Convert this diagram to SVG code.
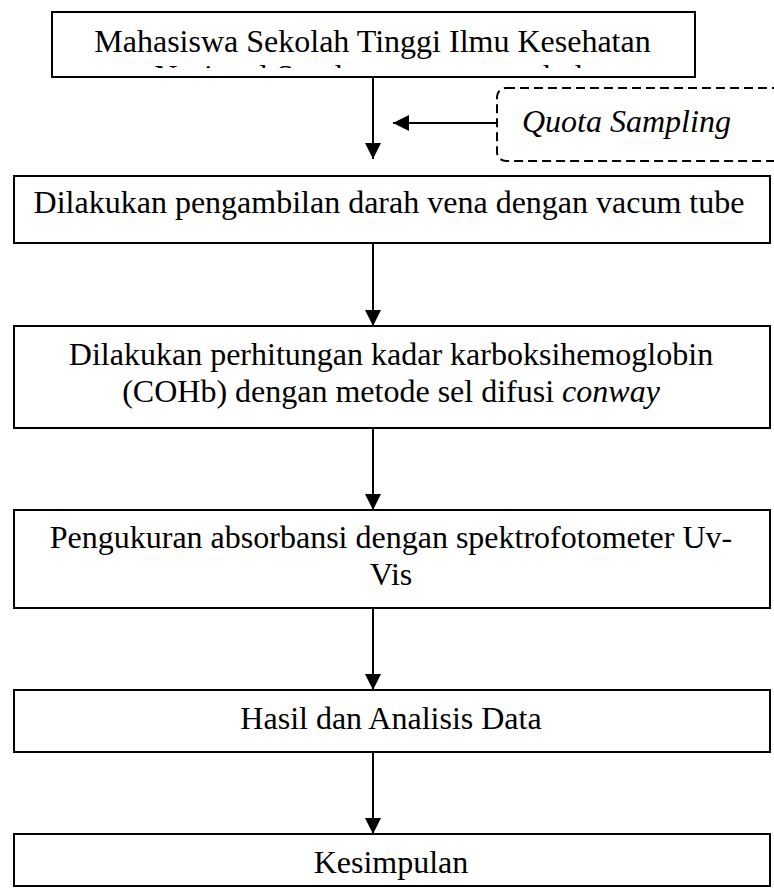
<svg xmlns="http://www.w3.org/2000/svg" width="774" height="888" viewBox="0 0 774 888">
  <style>
    .box { fill: #ffffff; stroke: #000000; stroke-width: 2; }
    .dash { fill: #ffffff; stroke: #000000; stroke-width: 2; stroke-dasharray: 9 5; }
    .t { font-family: "Liberation Serif", "Times New Roman", serif; font-size: 32px; fill: #000000; }
    .c { text-anchor: middle; }
    .i { font-style: italic; }
    .conn { stroke: #000000; stroke-width: 2; fill: none; marker-end: url(#arrow); }
  </style>
  <defs>
    <marker id="arrow" markerUnits="userSpaceOnUse" markerWidth="16" markerHeight="16" viewBox="0 0 15 15" refX="15" refY="7.5" orient="auto">
      <path d="M0,0 L15,7.5 L0,15 Z" fill="#000000"/>
    </marker>
    <clipPath id="clip1">
      <rect x="52" y="0" width="643" height="68"/>
    </clipPath>
  </defs>
  <rect width="774" height="888" fill="#ffffff"/>

  <g id="connectors">
    <line class="conn" x1="373" y1="77" x2="373" y2="159"/>
    <line class="conn" x1="497" y1="123" x2="393" y2="123"/>
    <line class="conn" x1="373" y1="243" x2="373" y2="326"/>
    <line class="conn" x1="373" y1="428" x2="373" y2="510"/>
    <line class="conn" x1="373" y1="608" x2="373" y2="690"/>
    <line class="conn" x1="373" y1="752" x2="373" y2="834"/>
  </g>

  <g id="node-mahasiswa">
    <rect class="box" x="52" y="12" width="643" height="65"/>
    <text class="t c" x="372.5" y="52">Mahasiswa Sekolah Tinggi Ilmu Kesehatan</text>
    <text class="t c" x="372.5" y="86.5" clip-path="url(#clip1)">Nasional Surakarta yang merokok</text>
  </g>

  <g id="node-quota">
    <rect class="dash" x="497" y="88" width="300" height="73" rx="9" ry="9"/>
    <text class="t i" x="522" y="132">Quota Sampling</text>
  </g>

  <g id="node-pengambilan">
    <rect class="box" x="14" y="176" width="756" height="67"/>
    <text class="t c" x="389" y="213">Dilakukan pengambilan darah vena dengan vacum tube</text>
  </g>

  <g id="node-perhitungan">
    <rect class="box" x="14" y="326" width="756" height="102"/>
    <text class="t c" x="391" y="365">Dilakukan perhitungan kadar karboksihemoglobin</text>
    <text class="t c" x="391" y="402">(COHb) dengan metode sel difusi <tspan class="i">conway</tspan></text>
  </g>

  <g id="node-pengukuran">
    <rect class="box" x="14" y="510" width="756" height="98"/>
    <text class="t c" x="391" y="548">Pengukuran absorbansi dengan spektrofotometer Uv-</text>
    <text class="t c" x="391" y="585">Vis</text>
  </g>

  <g id="node-hasil">
    <rect class="box" x="14" y="690" width="756" height="62"/>
    <text class="t c" x="391" y="729">Hasil dan Analisis Data</text>
  </g>

  <g id="node-kesimpulan">
    <rect class="box" x="14" y="834" width="756" height="52"/>
    <text class="t c" x="391" y="873">Kesimpulan</text>
  </g>
</svg>
